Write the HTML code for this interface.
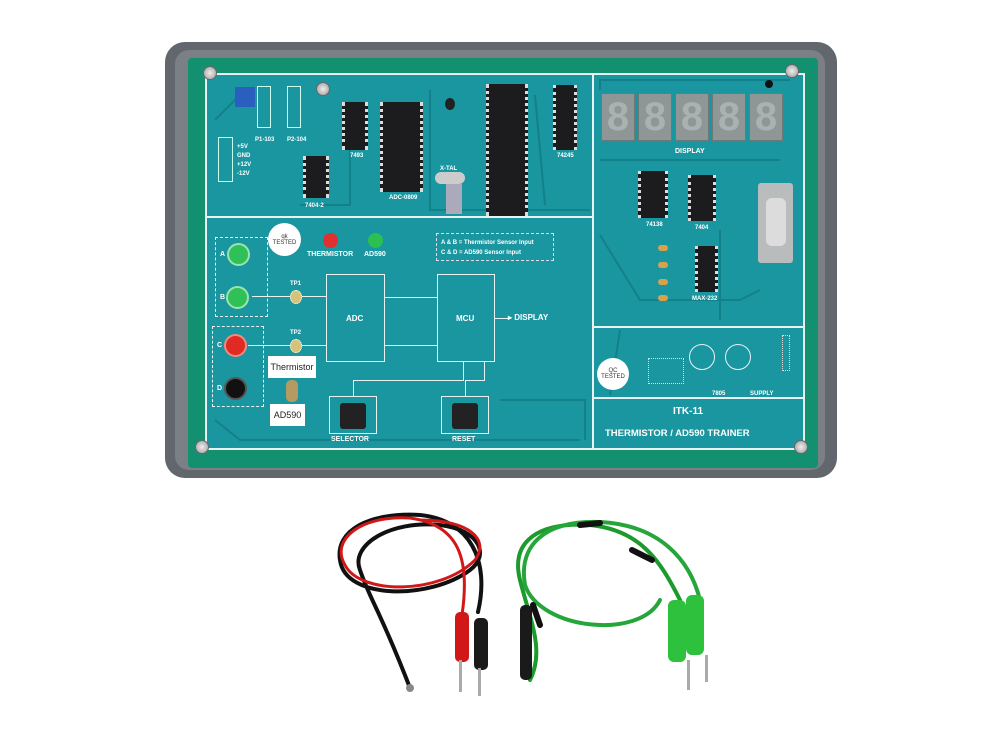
<!DOCTYPE html>
<html><head><meta charset="utf-8"><style>
*{margin:0;padding:0;box-sizing:border-box}
body{width:1000px;height:750px;background:#fff;position:relative;overflow:hidden;font-family:"Liberation Sans",sans-serif}
.a{position:absolute}
.chip{position:absolute;background:#1c1c1e;border-left:3px dotted #ddd;border-right:3px dotted #ddd}
.t{position:absolute;color:#fff;font-weight:bold;white-space:nowrap}
.wl{position:absolute;background:#e8f2f2}
.seg{position:absolute;top:93px;width:34px;height:48px;background:#8e9696;border:1px solid #6f7878;color:#a9b1b1;font:bold 40px "Liberation Sans",sans-serif;text-align:center;line-height:46px}
.screw{position:absolute;width:14px;height:14px;border-radius:50%;background:radial-gradient(#eee,#999);border:1px solid #666}
.btn{position:absolute;width:48px;height:38px;border:1px solid #e8f2f2}
.btn div{position:absolute;left:10px;top:6px;width:26px;height:26px;background:#222;border-radius:3px}
</style></head><body>
<!-- tray -->
<div class="a" style="left:165px;top:42px;width:672px;height:436px;background:#62676d;border-radius:20px"></div>
<div class="a" style="left:175px;top:50px;width:650px;height:420px;background:#7a8086;border-radius:14px"></div>
<!-- green board -->
<div class="a" style="left:188px;top:58px;width:630px;height:410px;background:#12906f;border-radius:4px"></div>
<div class="a" style="left:205px;top:73px;width:600px;height:376px;background:#1a96a0"></div>
<svg class="a" style="left:0;top:0" width="1000" height="480">
<g fill="none" stroke="#13808a" stroke-width="2">
<path d="M215 120 L240 95 M430 90 L430 210 L590 210 M535 95 L545 205 M600 160 L780 160 M600 235 L640 300 L740 300 L760 290 M620 330 L610 395 M720 230 L720 320 M215 420 L240 440 L580 440 M500 400 L585 400 L585 440 M350 105 L350 205 L300 205 M600 90 L600 80 L790 80"/>
</g>
</svg>
<!-- frame lines -->
<div class="wl" style="left:205px;top:73px;width:600px;height:2px"></div>
<div class="wl" style="left:205px;top:448px;width:600px;height:2px"></div>
<div class="wl" style="left:205px;top:73px;width:2px;height:377px"></div>
<div class="wl" style="left:803px;top:73px;width:2px;height:377px"></div>
<div class="wl" style="left:205px;top:216px;width:388px;height:2px"></div>
<div class="wl" style="left:592px;top:73px;width:2px;height:377px"></div>
<div class="wl" style="left:592px;top:326px;width:212px;height:2px"></div>
<div class="wl" style="left:592px;top:397px;width:212px;height:2px"></div>
<div class="screw" style="left:203px;top:66px"></div>
<div class="screw" style="left:785px;top:64px"></div>
<div class="screw" style="left:195px;top:440px"></div>
<div class="screw" style="left:794px;top:440px"></div>
<div class="screw" style="left:316px;top:82px"></div>
<!-- top-left components -->
<div class="a" style="left:235px;top:87px;width:20px;height:20px;background:#2a5fc0"></div>
<div class="a" style="left:257px;top:86px;width:14px;height:42px;border:1px solid #cfe"></div>
<div class="a" style="left:287px;top:86px;width:14px;height:42px;border:1px solid #cfe"></div>
<div class="t" style="left:255px;top:137px;font-size:6px">P1-103</div>
<div class="t" style="left:287px;top:137px;font-size:6px">P2-104</div>
<div class="a" style="left:218px;top:137px;width:15px;height:45px;border:1px solid #cfe"></div>
<div class="t" style="left:237px;top:143px;font-size:6px;line-height:9px">+5V<br>GND<br>+12V<br>-12V</div>
<div class="chip" style="left:303px;top:156px;width:26px;height:42px"></div>
<div class="t" style="left:305px;top:203px;font-size:6px">7404-2</div>
<div class="chip" style="left:342px;top:102px;width:26px;height:48px"></div>
<div class="t" style="left:350px;top:153px;font-size:6px">7493</div>
<div class="chip" style="left:380px;top:102px;width:43px;height:90px"></div>
<div class="t" style="left:389px;top:195px;font-size:6px">ADC-0809</div>
<div class="a" style="left:445px;top:98px;width:10px;height:12px;border-radius:50%;background:#222"></div>
<div class="a" style="left:435px;top:172px;width:30px;height:12px;border-radius:6px;background:#ccc"></div>
<div class="a" style="left:446px;top:184px;width:16px;height:30px;background:#aab"></div>
<div class="t" style="left:440px;top:166px;font-size:6px">X-TAL</div>
<div class="chip" style="left:486px;top:84px;width:42px;height:132px"></div>
<div class="chip" style="left:553px;top:85px;width:24px;height:65px"></div>
<div class="t" style="left:557px;top:153px;font-size:6px">74245</div>
<!-- displays -->
<div class="seg" style="left:601px">8</div>
<div class="seg" style="left:638px">8</div>
<div class="seg" style="left:675px">8</div>
<div class="seg" style="left:712px">8</div>
<div class="seg" style="left:749px">8</div>
<div class="a" style="left:765px;top:80px;width:8px;height:8px;border-radius:50%;background:#111"></div>
<div class="t" style="left:675px;top:148px;font-size:7px">DISPLAY</div>
<div class="chip" style="left:638px;top:171px;width:30px;height:47px"></div>
<div class="t" style="left:646px;top:222px;font-size:6px">74138</div>
<div class="chip" style="left:688px;top:175px;width:28px;height:46px"></div>
<div class="t" style="left:695px;top:225px;font-size:6px">7404</div>
<div class="a" style="left:758px;top:183px;width:35px;height:80px;background:#b9bcbc;border-radius:3px"></div>
<div class="a" style="left:766px;top:198px;width:20px;height:48px;background:#dcdcdc;border-radius:6px"></div>
<div class="chip" style="left:695px;top:246px;width:23px;height:46px"></div>
<div class="t" style="left:692px;top:296px;font-size:6px">MAX-232</div>
<div class="a" style="left:658px;top:245px;width:10px;height:6px;background:#d9a24a;border-radius:3px"></div>
<div class="a" style="left:658px;top:262px;width:10px;height:6px;background:#d9a24a;border-radius:3px"></div>
<div class="a" style="left:658px;top:279px;width:10px;height:6px;background:#d9a24a;border-radius:3px"></div>
<div class="a" style="left:658px;top:295px;width:10px;height:6px;background:#d9a24a;border-radius:3px"></div>
<!-- bottom right -->
<div class="a" style="left:597px;top:358px;width:32px;height:32px;border-radius:50%;background:#fff;color:#333;font-size:6px;text-align:center;padding-top:10px">QC<br>TESTED</div>
<div class="a" style="left:689px;top:344px;width:26px;height:26px;border-radius:50%;border:1px solid #e8f2f2"></div>
<div class="a" style="left:725px;top:344px;width:26px;height:26px;border-radius:50%;border:1px solid #e8f2f2"></div>
<div class="a" style="left:648px;top:358px;width:36px;height:26px;border:1px dotted #ddd"></div>
<div class="a" style="left:782px;top:335px;width:8px;height:36px;border:1px dotted #ddd"></div>
<div class="t" style="left:712px;top:391px;font-size:6px">7805</div>
<div class="t" style="left:750px;top:391px;font-size:6px">SUPPLY</div>
<div class="t" style="left:673px;top:406px;font-size:10px">ITK-11</div>
<div class="t" style="left:605px;top:428px;font-size:9.5px">THERMISTOR / AD590 TRAINER</div>
<!-- bottom left -->
<div class="a" style="left:215px;top:237px;width:53px;height:80px;border:1px dashed #e8f2f2"></div>
<div class="a" style="left:212px;top:326px;width:52px;height:81px;border:1px dashed #e8f2f2"></div>
<div class="a" style="left:227px;top:243px;width:23px;height:23px;border-radius:50%;background:#2fc058;border:2px solid #9de3ae"></div>
<div class="a" style="left:226px;top:286px;width:23px;height:23px;border-radius:50%;background:#2fc058;border:2px solid #9de3ae"></div>
<div class="a" style="left:224px;top:334px;width:23px;height:23px;border-radius:50%;background:#e02a22;border:2px solid #f08a80"></div>
<div class="a" style="left:224px;top:377px;width:23px;height:23px;border-radius:50%;background:#111;border:2px solid #555"></div>
<div class="t" style="left:220px;top:251px;font-size:7px">A</div>
<div class="t" style="left:220px;top:294px;font-size:7px">B</div>
<div class="t" style="left:217px;top:342px;font-size:7px">C</div>
<div class="t" style="left:217px;top:385px;font-size:7px">D</div>
<div class="a" style="left:268px;top:223px;width:33px;height:33px;border-radius:50%;background:#fff;color:#333;font-size:6px;text-align:center;padding-top:11px">qk<br>TESTED</div>
<div class="a" style="left:323px;top:233px;width:15px;height:15px;border-radius:50%;background:#e03030"></div>
<div class="a" style="left:368px;top:233px;width:15px;height:15px;border-radius:50%;background:#2cc050"></div>
<div class="t" style="left:307px;top:251px;font-size:7px">THERMISTOR</div>
<div class="t" style="left:364px;top:251px;font-size:7px">AD590</div>
<div class="a" style="left:436px;top:233px;width:118px;height:28px;border:1px dashed #dde"></div>
<div class="t" style="left:441px;top:238px;font-size:6px;line-height:10px">A &amp; B = Thermistor Sensor Input<br>C &amp; D = AD590 Sensor Input</div>
<div class="wl" style="left:252px;top:296px;width:74px;height:1px"></div>
<div class="wl" style="left:248px;top:345px;width:78px;height:1px"></div>
<div class="a" style="left:290px;top:290px;width:12px;height:14px;border-radius:50%;background:#d7c27a;border:1px dotted #fff"></div>
<div class="a" style="left:290px;top:339px;width:12px;height:14px;border-radius:50%;background:#d7c27a;border:1px dotted #fff"></div>
<div class="t" style="left:290px;top:281px;font-size:6px">TP1</div>
<div class="t" style="left:290px;top:330px;font-size:6px">TP2</div>
<div class="a" style="left:326px;top:274px;width:59px;height:88px;border:1px solid #e8f2f2"></div>
<div class="a" style="left:437px;top:274px;width:58px;height:88px;border:1px solid #e8f2f2"></div>
<div class="t" style="left:346px;top:314px;font-size:8px">ADC</div>
<div class="t" style="left:456px;top:314px;font-size:8px">MCU</div>
<div class="wl" style="left:385px;top:297px;width:52px;height:1px"></div>
<div class="wl" style="left:385px;top:345px;width:52px;height:1px"></div>
<div class="wl" style="left:495px;top:318px;width:14px;height:1px"></div>
<div class="t" style="left:508px;top:313px;font-size:8px">▸ DISPLAY</div>
<div class="wl" style="left:353px;top:380px;width:111px;height:1px"></div>
<div class="wl" style="left:353px;top:380px;width:1px;height:16px"></div>
<div class="wl" style="left:463px;top:362px;width:1px;height:19px"></div>
<div class="wl" style="left:484px;top:362px;width:1px;height:19px"></div>
<div class="wl" style="left:465px;top:380px;width:20px;height:1px"></div>
<div class="wl" style="left:465px;top:380px;width:1px;height:16px"></div>
<div class="a" style="left:268px;top:356px;width:48px;height:22px;background:#fff;color:#222;font-size:9px;text-align:center;line-height:22px">Thermistor</div>
<div class="a" style="left:286px;top:380px;width:12px;height:22px;background:#b59a62;border-radius:5px"></div>
<div class="a" style="left:270px;top:404px;width:35px;height:22px;background:#fff;color:#222;font-size:9px;text-align:center;line-height:22px">AD590</div>
<div class="btn" style="left:329px;top:396px"><div></div></div>
<div class="btn" style="left:441px;top:396px"><div></div></div>
<div class="t" style="left:331px;top:436px;font-size:7px">SELECTOR</div>
<div class="t" style="left:452px;top:436px;font-size:7px">RESET</div>
<!-- cables -->
<svg class="a" style="left:0;top:0" width="1000" height="750">
<g fill="none" stroke-linecap="round">
<path d="M478 612 C490 560 470 520 420 515 C370 512 335 530 340 560 C345 600 430 600 470 570 C490 555 480 530 440 525 C390 520 350 545 360 570 C370 600 380 610 410 688" stroke="#111" stroke-width="4"/>
<path d="M462 615 C470 560 460 525 410 518 C360 515 330 540 345 565 C360 595 440 595 475 560 C490 540 470 520 420 520" stroke="#d01818" stroke-width="3"/>
<path d="M680 600 C660 560 640 530 590 525 C540 522 510 540 520 580 C530 620 545 650 530 680" stroke="#1c9a2c" stroke-width="4"/>
<path d="M700 600 C690 560 660 525 600 522 C545 520 518 545 525 585 C540 630 640 640 660 600" stroke="#26a63a" stroke-width="4"/>
<path d="M580 525 L600 523 M632 550 L652 560 M533 605 L540 625" stroke="#111" stroke-width="6"/>
</g>
<rect x="455" y="612" width="14" height="50" rx="5" fill="#d01818"/>
<rect x="474" y="618" width="14" height="52" rx="5" fill="#1a1a1a"/>
<rect x="459" y="660" width="3" height="32" fill="#aaa"/>
<rect x="478" y="668" width="3" height="28" fill="#aaa"/>
<rect x="520" y="605" width="12" height="75" rx="5" fill="#1a1a1a"/>
<circle cx="410" cy="688" r="4" fill="#888"/>
<rect x="668" y="600" width="18" height="62" rx="6" fill="#2dc13d"/>
<rect x="686" y="595" width="18" height="60" rx="6" fill="#2dc13d"/>
<rect x="687" y="660" width="3" height="30" fill="#aaa"/>
<rect x="705" y="655" width="3" height="27" fill="#aaa"/>
</svg>
</body></html>
